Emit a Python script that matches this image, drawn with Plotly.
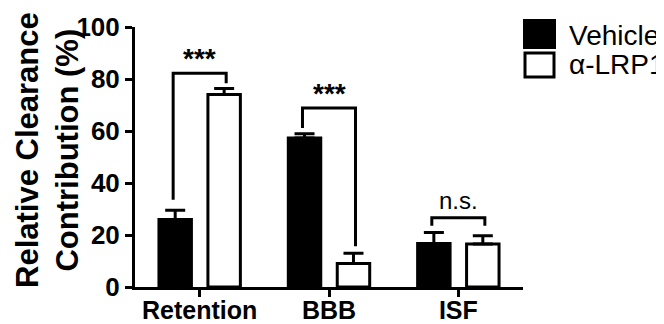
import plotly.graph_objects as go

categories = ["Retention", "BBB", "ISF"]
vehicle_vals = [26.0, 57.3, 16.7]
vehicle_err = [3.5, 1.6, 4.3]
lrp1_vals = [74.0, 9.0, 16.5]
lrp1_err = [2.3, 4.0, 3.2]
series_names = ["Vehicle", "α-LRP1"]

# significance brackets: (left leg bottom, top, right leg bottom, label)
bracket_left = [33.6, 61.2, 23.6]
bracket_top = [82.2, 68.8, 26.6]
bracket_right = [78.4, 15.7, 23.6]
bracket_labels = ["***", "***", "n.s."]

y_ticks = [0, 20, 40, 60, 80, 100]

FONT = "Liberation Sans, Arial, Helvetica, sans-serif"
PAGE_OFF = 8  # default body margin of the html page
W, H = 664 - PAGE_OFF, 324 - PAGE_OFF
L, R, T, B = 135 - PAGE_OFF, 141, 27 - PAGE_OFF, 37
PW, PH = W - L - R, H - T - B


def px2x(px):
    return (px - PAGE_OFF - L) / PW


def px2y(py):
    return (H - B - (py - PAGE_OFF)) / PH


xs = list(range(len(categories)))
fig = go.Figure()
fig.add_trace(go.Bar(
    x=xs, y=vehicle_vals, name=series_names[0],
    marker=dict(color="black", line=dict(color="black", width=3)),
    error_y=dict(type="data", symmetric=False, array=vehicle_err,
                 arrayminus=[0] * len(vehicle_err),
                 color="black", thickness=3, width=10),
    showlegend=False,
))
fig.add_trace(go.Bar(
    x=xs, y=lrp1_vals, name=series_names[1],
    marker=dict(color="white", line=dict(color="black", width=3)),
    error_y=dict(type="data", symmetric=False, array=lrp1_err,
                 arrayminus=[0] * len(lrp1_err),
                 color="black", thickness=3, width=10),
    showlegend=False,
))

off = 0.205
for i, c in enumerate(xs):
    fig.add_trace(go.Scatter(
        x=[c - off, c - off, c + off, c + off],
        y=[bracket_left[i], bracket_top[i], bracket_top[i], bracket_right[i]],
        mode="lines", line=dict(color="black", width=3),
        showlegend=False, hoverinfo="skip",
    ))
    stars = bracket_labels[i] == "***"
    fig.add_annotation(
        x=c, y=bracket_top[i], xref="x", yref="y",
        text=(f"<b>{bracket_labels[i]}</b>" if stars else bracket_labels[i]),
        showarrow=False,
        yanchor="bottom", yshift=(-3 if stars else 2),
        font=dict(family=FONT, size=(28 if stars else 24), color="black"),
    )

fig.update_layout(
    width=W, height=H,
    margin=dict(l=L, r=R, t=T, b=B, autoexpand=False),
    paper_bgcolor="white", plot_bgcolor="white",
    barmode="group", bargap=0.243, bargroupgap=0.337,
    font=dict(family=FONT, color="black"),
    xaxis=dict(
        range=[-0.5, 2.5], tickvals=xs, ticktext=[f"<b>{c}</b>" for c in categories],
        ticks="outside", ticklen=7, tickwidth=2.5, tickcolor="black",
        showline=True, linewidth=3, linecolor="black",
        showgrid=False, zeroline=False, automargin=False,
        ticklabelstandoff=-8,
        tickfont=dict(family=FONT, size=25, color="black"),
    ),
    yaxis=dict(
        range=[0, 100], tickvals=y_ticks, ticktext=[f"<b>{v}</b>" for v in y_ticks],
        ticks="outside", ticklen=7, tickwidth=3, tickcolor="black",
        showline=True, linewidth=3, linecolor="black",
        showgrid=False, zeroline=False, automargin=False,
        tickfont=dict(family=FONT, size=26, color="black"),
    ),
)

# y-axis title
fig.add_annotation(
    x=px2x(47), y=px2y(150), xref="paper", yref="paper",
    text="<b>Relative Clearance<br>Contribution (%)</b>", textangle=-90,
    showarrow=False, xanchor="center", yanchor="middle",
    font=dict(family=FONT, size=31, color="black"),
)

# legend (drawn manually to match large swatches)
fig.add_shape(type="rect", xref="paper", yref="paper",
              x0=px2x(524), x1=px2x(555), y0=px2y(48), y1=px2y(20),
              fillcolor="black", line=dict(color="black", width=2))
fig.add_shape(type="rect", xref="paper", yref="paper",
              x0=px2x(525), x1=px2x(554), y0=px2y(77), y1=px2y(53),
              fillcolor="white", line=dict(color="black", width=3))
fig.add_annotation(x=px2x(567), y=px2y(35), xref="paper", yref="paper",
                   text=series_names[0], showarrow=False,
                   xanchor="left", yanchor="middle",
                   font=dict(family=FONT, size=28, color="black"))
fig.add_annotation(x=px2x(567), y=px2y(64), xref="paper", yref="paper",
                   text=series_names[1], showarrow=False,
                   xanchor="left", yanchor="middle",
                   font=dict(family=FONT, size=28, color="black"))

fig.write_html("out.html")
